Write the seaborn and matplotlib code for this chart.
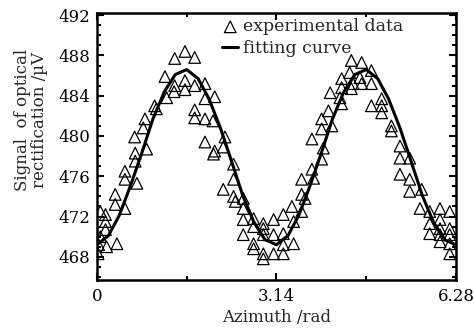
import matplotlib
matplotlib.use("Agg")
import matplotlib.pyplot as plt
import pandas as pd
import seaborn as sns
from matplotlib.ticker import MultipleLocator, FixedLocator

# datos (azimut en rad, senal en uV)
azimut = [0.02, 0.03, 0.06, 0.06, 0.15, 0.15, 0.15, 0.17, 0.35, 0.32, 0.32,
          0.49, 0.49, 0.49, 0.67, 0.67, 0.70, 0.84, 0.81, 0.87, 1.01, 1.04, 0.66,
          1.19, 1.22, 1.36, 1.36, 1.35, 1.54, 1.54, 1.54, 1.71, 1.71, 1.71, 1.71,
          1.89, 1.89, 1.89, 1.89, 2.06, 2.03, 2.06, 2.04, 2.24, 2.21, 2.21,
          2.39, 2.39, 2.39, 2.42, 2.56, 2.56, 2.56, 2.56, 2.74, 2.74, 2.74, 2.74,
          2.91, 2.91, 2.91, 2.91, 2.91, 3.09, 3.09, 3.09, 3.26, 3.26, 3.26, 3.26,
          3.41, 3.44, 3.44, 3.58, 3.58, 3.58, 3.64, 3.76, 3.79, 3.76,
          3.93, 3.96, 3.93, 3.93, 4.08, 4.05, 4.11, 4.28, 4.28, 4.25, 4.28,
          4.45, 4.42, 4.48, 4.45, 4.63, 4.60, 4.63, 4.80, 4.80, 4.80,
          4.98, 4.98, 4.98, 5.15, 5.15, 5.30, 5.30, 5.30, 5.47, 5.47, 5.47,
          5.68, 5.65, 5.82, 5.82, 5.82, 6.00, 6.00, 6.00, 6.00, 6.00,
          6.17, 6.17, 6.17, 6.17, 6.17]
senal = [468.3, 469.2, 470.0, 472.5, 472.2, 471.5, 470.7, 469.0, 469.3, 474.2, 473.2,
         476.5, 475.7, 472.8, 478.3, 477.5, 475.3, 481.7, 480.8, 478.7, 483.0, 482.7, 479.9,
         485.9, 483.8, 487.7, 485.0, 484.4, 488.4, 485.5, 484.6, 487.8, 485.0, 482.6, 481.8,
         485.2, 483.7, 481.7, 479.4, 483.9, 481.5, 478.5, 478.2, 479.9, 478.9, 474.7,
         477.2, 475.7, 474.0, 473.5, 473.8, 472.8, 471.7, 470.2, 471.8, 471.0, 469.3, 468.8,
         471.3, 470.8, 470.2, 468.3, 467.8, 471.7, 470.2, 468.3, 472.2, 470.3, 469.2, 468.3,
         473.0, 471.5, 469.3, 475.7, 474.2, 472.5, 473.8, 476.7, 475.8, 479.7,
         477.7, 478.8, 481.7, 480.7, 484.3, 482.5, 481.0, 485.7, 484.8, 483.8, 483.2,
         487.5, 486.3, 485.2, 484.7, 487.3, 485.8, 485.2, 486.5, 485.2, 483.0,
         483.7, 483.0, 482.3, 481.0, 480.5, 479.0, 477.8, 476.2, 477.8, 475.7, 474.5,
         474.7, 472.8, 472.5, 471.3, 470.3, 472.8, 471.7, 470.8, 470.2, 469.5,
         472.5, 470.8, 470.2, 469.3, 468.3]

# curva de ajuste
azimut_ajuste = [0.00, 0.20, 0.39, 0.59, 0.79, 0.98, 1.18, 1.37, 1.57, 1.77, 1.96,
                 2.16, 2.36, 2.55, 2.75, 2.94, 3.14, 3.34, 3.53, 3.73, 3.93, 4.12,
                 4.32, 4.51, 4.71, 4.91, 5.10, 5.30, 5.50, 5.69, 5.89, 6.08, 6.28]
senal_ajuste = [469.2, 470.1, 472.1, 475.1, 478.4, 481.7, 484.4, 486.1, 486.6, 485.7, 483.7,
                480.8, 477.4, 474.1, 471.4, 469.7, 469.2, 470.1, 472.1, 475.1, 478.4, 481.7,
                484.4, 486.1, 486.6, 485.7, 483.7, 480.8, 477.4, 474.1, 471.4, 469.7, 469.2]

df = pd.DataFrame({"azimut": azimut, "senal": senal})
df_fit = pd.DataFrame({"azimut": azimut_ajuste, "senal": senal_ajuste})

sns.set_style("ticks")
plt.rcParams["font.family"] = ["DejaVu Serif"]

fig = plt.figure(figsize=(4.75, 3.29), dpi=100)
ax = fig.add_axes([0.204, 0.149, 0.756, 0.811])

sns.scatterplot(data=df, x="azimut", y="senal", marker="^", s=70,
                facecolor="none", edgecolor="black", linewidth=0.9,
                label="experimental data", ax=ax, zorder=2)
sns.lineplot(data=df_fit, x="azimut", y="senal", color="black", linewidth=2.2,
             label="fitting curve", ax=ax, zorder=3)

ax.set_xlim(0, 6.28)
ax.set_ylim(465.7, 492.2)
ax.xaxis.set_major_locator(FixedLocator([0, 3.14, 6.28]))
ax.set_xticklabels(["0", "3.14", "6.28"])
ax.xaxis.set_minor_locator(FixedLocator([1.57, 4.71]))
ax.yaxis.set_major_locator(MultipleLocator(4))
ax.yaxis.set_minor_locator(MultipleLocator(1))
ax.tick_params(which="both", direction="in", top=True, right=True, labelsize=12,
               width=1.5, colors="black")
ax.tick_params(which="major", length=5)
ax.tick_params(which="minor", length=3)
ax.tick_params(axis="x", which="major", pad=6)
ax.tick_params(axis="y", which="major", pad=5)
for s in ax.spines.values():
    s.set_linewidth(1.8)
    s.set_color("black")

ax.set_xlabel("Azimuth /rad", fontsize=12, labelpad=3)
ax.set_ylabel("Signal  of optical\nrectification /\u00b5V", fontsize=12,
              linespacing=1.0)
ax.yaxis.set_label_coords(-0.135, 0.60)

leg = ax.legend(loc="upper left", bbox_to_anchor=(0.335, 1.0), frameon=False,
                fontsize=12.5, handlelength=0.9, handletextpad=0.3,
                labelspacing=0.25, borderaxespad=0.2, borderpad=0.1)

fig.savefig("out.png", dpi=100)
